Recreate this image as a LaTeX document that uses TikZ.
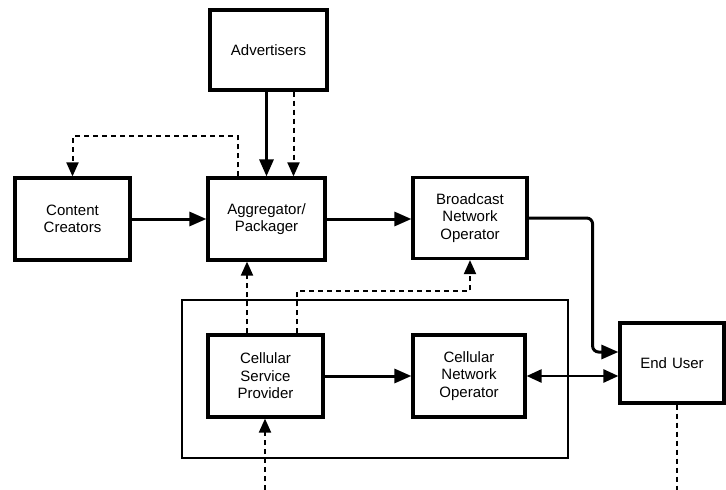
\documentclass[tikz,border=0pt]{standalone}
\usepackage{fontspec}
\setmainfont{Liberation Sans}
\usetikzlibrary{arrows.meta,calc}
\tikzset{
  blk/.style={draw, line width=3.2pt, rectangle, align=center, inner sep=0pt,
    font=\fontsize{15}{17.5}\selectfont, text width=104pt},
  frame/.style={draw, line width=2pt, rectangle, inner sep=0pt},
  flow/.style={line width=3pt, -{Triangle[length=17pt,width=14pt]}},
  biflow/.style={line width=2.6pt, {Triangle[length=15pt,width=13pt]}-{Triangle[length=15pt,width=13pt]}},
  ctrl/.style={line width=2pt, dash pattern=on 5pt off 4pt, -{Triangle[length=14pt,width=12pt]}},
  ctrlplain/.style={line width=2pt, dash pattern=on 5pt off 4pt},
}
\begin{document}
\begin{tikzpicture}[x=1pt,y=-1pt]
\useasboundingbox (0,0) rectangle (726,490);
% container
\node[frame, minimum width=386pt, minimum height=158pt] (group) at (375,379) {};
% blocks
\node[blk, minimum width=117pt, minimum height=80pt] (adv) at (268.5,50) {Advertisers};
\node[blk, minimum width=115pt, minimum height=82pt] (cc) at (72.5,219) {Content\\Creators};
\node[blk, minimum width=117pt, minimum height=82pt] (agg) at (266.5,219) {Aggregator/\\Packager};
\node[blk, minimum width=114pt, minimum height=81pt] (bno) at (470,218) {Broadcast\\Network\\Operator};
\node[blk, minimum width=115pt, minimum height=82pt] (csp) at (265.5,376) {Cellular\\Service\\Provider};
\node[blk, minimum width=112pt, minimum height=82pt] (cno) at (469,376) {Cellular\\Network\\Operator};
\node[blk, minimum width=104pt, minimum height=80pt] (eu) at (672,363) {End User};
\coordinate (inCSP) at (265,490);
\coordinate (outEU) at (677,490);
% solid flows
\draw[flow] (agg.north |- adv.south) -- (agg.north);
\draw[flow] (cc.east) -- (cc.east -| agg.west);
\draw[flow] (agg.east) -- (agg.east -| bno.west);
\draw[flow] (csp.east) -- (csp.east -| cno.west);
\draw[flow, rounded corners=6pt] (bno.east) -- ++(64,0) |- ([yshift=11pt]eu.west);
\draw[biflow] (cno.east) -- (cno.east -| eu.west);
% dashed control lines
\draw[ctrl] ([xshift=25pt]adv.south) -- ([xshift=25pt]adv.south |- agg.north);
\draw[ctrl] ([xshift=-29pt]agg.north) -- ++(0,-40) -| (cc.north);
\draw[ctrl] ([xshift=-18.5pt]csp.north) -- ([xshift=-18.5pt]csp.north |- agg.south);
\draw[ctrl] ([xshift=31.5pt]csp.north) -- ++(0,-42) -| (bno.south);
\draw[ctrl] (inCSP) -- (inCSP |- csp.south);
\draw[ctrlplain] (outEU |- eu.south) -- (outEU);
\end{tikzpicture}
\end{document}
